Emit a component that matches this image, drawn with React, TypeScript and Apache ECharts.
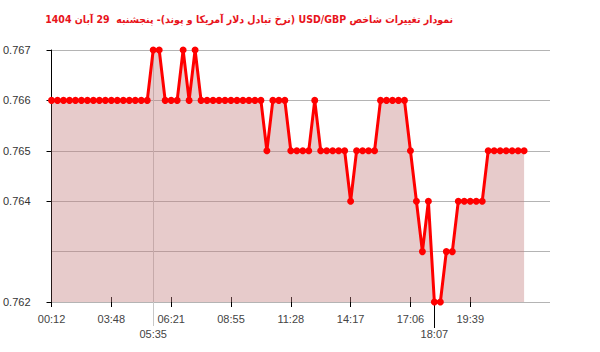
import React, { useEffect, useRef } from "react";
import * as echarts from "echarts";

const title =
  "\u202Bنمودار تغییرات شاخص USD/GBP (نرخ تبادل دلار آمریکا و پوند)- پنجشنبه  29 آبان 1404\u202C";

const values: number[] = [
  0.766, 0.766, 0.766, 0.766, 0.766, 0.766, 0.766, 0.766, 0.766, 0.766,
  0.766, 0.766, 0.766, 0.766, 0.766, 0.766, 0.766, 0.767, 0.767, 0.766,
  0.766, 0.766, 0.767, 0.766, 0.767, 0.766, 0.766, 0.766, 0.766, 0.766,
  0.766, 0.766, 0.766, 0.766, 0.766, 0.766, 0.765, 0.766, 0.766, 0.766,
  0.765, 0.765, 0.765, 0.765, 0.766, 0.765, 0.765, 0.765, 0.765, 0.765,
  0.764, 0.765, 0.765, 0.765, 0.765, 0.766, 0.766, 0.766, 0.766, 0.766,
  0.765, 0.764, 0.763, 0.764, 0.762, 0.762, 0.763, 0.763, 0.764, 0.764,
  0.764, 0.764, 0.764, 0.765, 0.765, 0.765, 0.765, 0.765, 0.765, 0.765,
];

const tickIdx = [0, 10, 20, 30, 40, 50, 60, 70];
const tickLabels = ["00:12", "03:48", "06:21", "08:55", "11:28", "14:17", "17:06", "19:39"];
const maxIdx = [17];
const maxLabels = ["05:35"];
const minIdx = [64];
const minLabels = ["18:07"];
const yTicks = [0.762, 0.764, 0.765, 0.766, 0.767];

const FONT = "'Liberation Sans', Arial, sans-serif";

function lookup(idx: number[], labels: string[]) {
  return (v: number) => {
    const k = idx.indexOf(Math.round(v));
    return k >= 0 ? labels[k] : "";
  };
}

export default function App() {
  const ref = useRef<HTMLDivElement>(null);
  useEffect(() => {
    const chart = echarts.init(ref.current!, null, { renderer: "svg" });
    const xBase = {
      type: "value" as const,
      min: 0,
      max: 83.33,
      position: "bottom" as const,
      axisLine: { show: false },
      splitLine: { show: false },
    };
    chart.setOption({
      animation: false,
      title: {
        text: title,
        right: 142,
        top: 8,
        textStyle: {
          color: "#e8141b",
          fontSize: 10.5,
          fontWeight: "bold",
          fontFamily: "'DejaVu Sans Condensed', 'DejaVu Sans', sans-serif",
        },
      },
      grid: { left: 50, right: 50, top: 50, bottom: 50 },
      xAxis: [
        {
          ...xBase,
          axisTick: { show: true, inside: true, length: 5, customValues: tickIdx, lineStyle: { color: "#000" } },
          axisLabel: {
            customValues: tickIdx,
            formatter: lookup(tickIdx, tickLabels),
            margin: 11,
            fontSize: 11,
            color: "#444",
            fontFamily: FONT,
          },
        },
        {
          ...xBase,
          axisTick: { show: true, inside: false, length: 5, customValues: tickIdx, lineStyle: { color: "#000" } },
          axisLabel: { show: false },
        },
        {
          ...xBase,
          axisTick: { show: true, length: 24, customValues: maxIdx, lineStyle: { color: "#c8c8c8" } },
          axisLabel: {
            customValues: maxIdx,
            formatter: lookup(maxIdx, maxLabels),
            margin: 26,
            fontSize: 11,
            color: "#444",
            fontFamily: FONT,
          },
          splitLine: { show: true, lineStyle: { color: "#c8c8c8", width: 1 } },
        },
        {
          ...xBase,
          axisTick: { show: true, length: 26, customValues: minIdx, lineStyle: { color: "#000" } },
          axisLabel: {
            customValues: minIdx,
            formatter: lookup(minIdx, minLabels),
            margin: 26,
            fontSize: 11,
            color: "#444",
            fontFamily: FONT,
          },
        },
      ],
      yAxis: [
        {
          type: "value",
          min: 0.762,
          max: 0.767,
          interval: 0.001,
          axisLine: { show: true, lineStyle: { color: "#000" } },
          axisTick: { show: false },
          axisLabel: { show: false },
          splitLine: { show: true, lineStyle: { color: "#b4b4b4", width: 1 } },
        },
        {
          type: "value",
          min: 0.762,
          max: 0.767,
          interval: 0.001,
          position: "left",
          axisLine: { show: false },
          axisTick: { show: true, length: 5, customValues: yTicks, lineStyle: { color: "#000" } },
          axisLabel: {
            customValues: yTicks,
            formatter: (v: number) => v.toFixed(3),
            margin: 21,
            fontSize: 11,
            color: "#333",
            fontFamily: FONT,
            padding: [0, 0, 6, 0],
          },
          splitLine: { show: false },
        },
      ],
      series: [
        {
          type: "line",
          xAxisIndex: 0,
          yAxisIndex: 0,
          data: values.map((v, i) => [i, v]),
          symbol: "circle",
          symbolSize: 7,
          showSymbol: true,
          lineStyle: { color: "#ff0000", width: 3 },
          itemStyle: { color: "#ff0000" },
          areaStyle: { color: "rgba(195,125,125,0.4)", opacity: 1, origin: "start" },
        },
      ],
    });
    return () => chart.dispose();
  }, []);
  return (
    <div
      ref={ref}
      style={{ position: "fixed", left: 0, top: 0, width: 600, height: 352, background: "#fff" }}
    />
  );
}
